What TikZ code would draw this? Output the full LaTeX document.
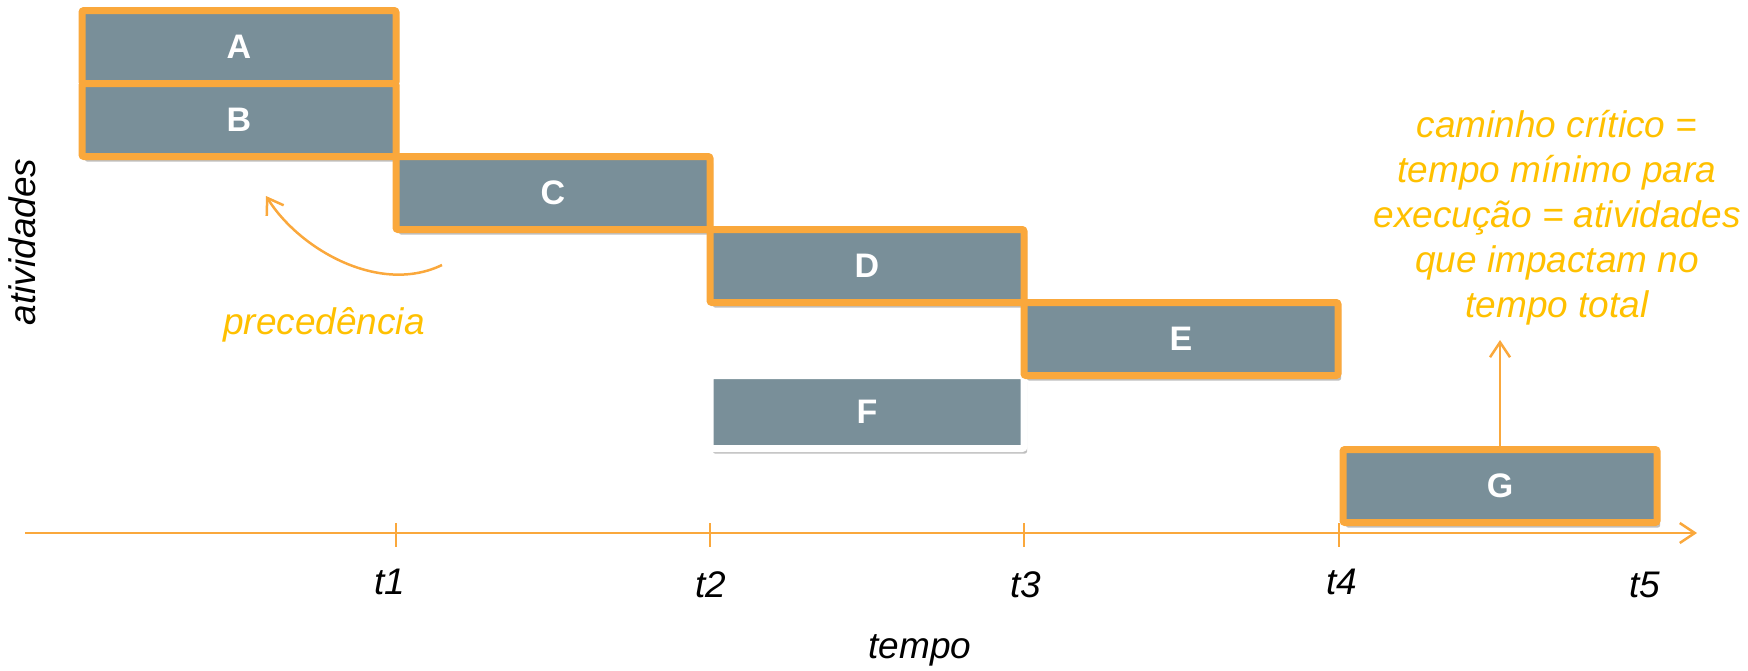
\documentclass[tikz,border=0pt]{standalone}
\usepackage{fontspec}
\setmainfont{Liberation Sans}
\usetikzlibrary{arrows.meta,shadows}

\definecolor{laranja}{RGB}{250,168,60}
\definecolor{ouro}{RGB}{255,192,0}
\definecolor{ardosia}{RGB}{121,143,153}

\tikzset{
	tarefa/.style={draw=laranja, line width=7pt, fill=ardosia, rounded corners=2pt,
		minimum width=314pt, minimum height=73pt, inner sep=0pt, text=white,
		font=\fontsize{34}{40}\selectfont\bfseries,
		drop shadow={shadow xshift=3pt, shadow yshift=-5pt, opacity=0.25, fill=black}},
	rotulo/.style={font=\fontsize{37}{45}\selectfont\itshape},
	nota/.style={rotulo, text=ouro, align=center},
	seta/.style={draw=laranja, line width=2.5pt, -{Straight Barb[length=15pt,width=20pt]}},
	marca/.style={draw=laranja, line width=2pt},
}

\begin{document}
\begin{tikzpicture}[x=1pt,y=-1pt]
	\useasboundingbox (0,0) rectangle (1748,670);
	% eixo do tempo
	\coordinate (o) at (25,533);
	\coordinate (fim) at (1697,533);
	\draw[seta] (o) -- (fim);
	\foreach \x in {396,710,1024,1339}
		\draw[marca] (\x,523) -- (\x,547);
	\node[rotulo] (t1) at (390,582) {t1};
	\node[rotulo] (t2) at (711,585) {t2};
	\node[rotulo] (t3) at (1026,585) {t3};
	\node[rotulo] (t4) at (1342,582) {t4};
	\node[rotulo] (t5) at (1645,585) {t5};
	\node[rotulo] (tempo) at (920,650) {tempo};
	\node[rotulo, rotate=90] (ativ) at (22,242) {atividades};
	% atividades
	\node[tarefa] (A) at (239,47) {A};
	\node[tarefa] (B) at (239,120) {B};
	\node[tarefa] (C) at (553,193) {C};
	\node[tarefa] (D) at (867,266) {D};
	\node[tarefa, draw=white] (F) at (867,412) {F};
	\node[tarefa] (E) at (1181,339) {E};
	\node[tarefa] (G) at (1500,486) {G};
	% notas
	\node[nota] (prec) at (324,325) {precedência};
	\coordinate (c1) at (442,265);
	\coordinate (c2) at (266,196);
	\draw[seta] (c1) .. controls (380,295) and (300,250) .. (c2);
	\node[nota] (cc) at (1557,218) {caminho crítico =\\ tempo mínimo para\\ execução = atividades\\ que impactam no\\ tempo total};
	\coordinate (topo) at (1500,340);
	\draw[seta] (G.north) -- (topo);
\end{tikzpicture}
\end{document}
